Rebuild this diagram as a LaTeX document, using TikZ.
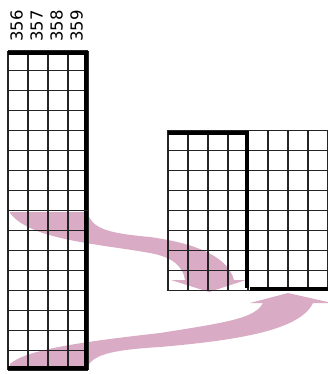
\documentclass[tikz,border=0pt]{standalone}
\usepackage{fontspec}
\setmainfont{DejaVu Sans}
\usepackage{tikz}
\definecolor{flowpink}{RGB}{217,171,197}
\definecolor{cellgray}{RGB}{35,35,35}

\begin{document}
\begin{tikzpicture}[x=1pt,y=-1pt,
    cell/.style={line width=1.1pt,cellgray},
    edge/.style={line width=4pt,black},
    flow/.style={fill=flowpink,draw=none},
    idx/.style={rotate=90,anchor=west,inner sep=0pt,font=\fontsize{16.5}{16.5}\selectfont}]
    \useasboundingbox (0,0) rectangle (328,374);
    % upper half goes to the left half
    \fill[flow] (10,212) -- (87,212) .. controls (92,228) and (105,233) .. (150,237)
        .. controls (200,244) and (228,258) .. (234,280) -- (246,280) -- (209,292)
        -- (171,280) -- (185,280) .. controls (183,266) and (172,257) .. (150,253)
        .. controls (100,244) and (30,240) .. (10,213) -- cycle;
    % lower half goes to the right half
    \fill[flow] (10,368) -- (87,368) .. controls (92,355) and (110,350) .. (160,347)
        .. controls (240,340) and (300,330) .. (313,303) -- (332,303) -- (288,293)
        -- (250,303) -- (263,303) .. controls (255,318) and (230,322) .. (160,333)
        .. controls (80,342) and (25,350) .. (10,364) -- cycle;
    % left block
    \foreach \i in {0,...,4} \draw[cell] (8+20*\i,51) -- (8+20*\i,370);
    \foreach \j in {0,...,16} \draw[cell] (8,51+19.94*\j) -- (88,51+19.94*\j);
    \draw[edge] (8,53) -- (86,53) -- (86,210);
    \draw[edge] (86,211) -- (86,368) -- (8,368);
    \foreach \n [count=\k from 0] in {356,...,359}
        \node[idx] (c\n) at (16.5+20*\k,42) {\n};
    % right block
    \foreach \i in {0,...,7} \draw[cell] (168+20*\i,130.5) -- (168+20*\i,290.5);
    \draw[cell] (327.5,130.5) -- (327.5,290.5);
    \foreach \j in {0,...,8} \draw[cell] (168,130.5+20*\j) -- (328,130.5+20*\j);
    \draw[edge] (168,133) -- (247,133) -- (247,288);
    \draw[edge] (250,289) -- (330,289);
\end{tikzpicture}
\end{document}
